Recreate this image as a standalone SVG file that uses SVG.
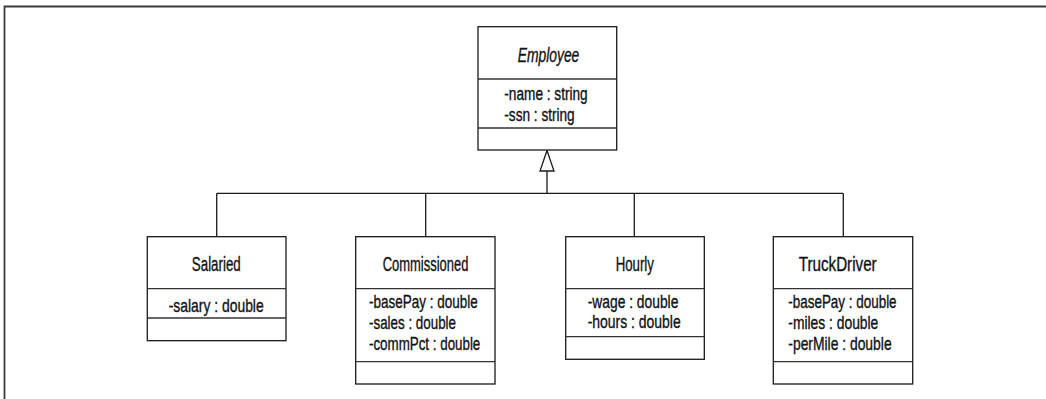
<svg xmlns="http://www.w3.org/2000/svg" width="1046" height="399" viewBox="0 0 1046 399">
<style>
.box{fill:#fff;stroke:#1a1a1a;stroke-width:1.3}
.div{stroke:#333;stroke-width:1.3}
.t{font-family:"Liberation Sans",Arial,sans-serif;font-size:20.5px;fill:#111;stroke:#111;stroke-width:0.35;text-anchor:middle}
.a{font-family:"Liberation Sans",Arial,sans-serif;font-size:18.5px;fill:#111;stroke:#111;stroke-width:0.35}
.c{fill:none;stroke:#1a1a1a;stroke-width:1.3}
.frame{fill:none;stroke:#3a3a3a;stroke-width:1.8}
</style>
<rect width="1046" height="399" fill="#fff"/>
<path class="frame" d="M4.5,399 V6.5 H1046"/>
<g id="connectors">
<path class="c" d="M547,171 V193.3 M216.7,193.3 H843.3 M216.7,193.3 V236.7 M425.7,193.3 V236.7 M634.3,193.3 V236.7 M843.3,193.3 V236.7"/>
<polygon class="c" points="547,150.5 540,171 554,171" style="fill:#fff"/>
</g>
<g id="Employee">
<rect class="box" x="478" y="26.7" width="138.7" height="123.3"/>
<line class="div" x1="478" y1="79" x2="616.7" y2="79"/>
<line class="div" x1="478" y1="128" x2="616.7" y2="128"/>
<text class="t" x="548.5" y="62.3" font-style="italic" textLength="61.6" lengthAdjust="spacingAndGlyphs">Employee</text>
<text class="a" x="504.3" y="100" textLength="83.4" lengthAdjust="spacingAndGlyphs">-name : string</text>
<text class="a" x="504.3" y="120.7" textLength="70.4" lengthAdjust="spacingAndGlyphs">-ssn : string</text>
</g>
<g id="Salaried">
<rect class="box" x="147.3" y="236.7" width="138.7" height="104"/>
<line class="div" x1="147.3" y1="288.7" x2="286" y2="288.7"/>
<line class="div" x1="147.3" y1="318" x2="286" y2="318"/>
<text class="t" x="216.3" y="270.7" textLength="49" lengthAdjust="spacingAndGlyphs">Salaried</text>
<text class="a" x="168.7" y="311.7" textLength="95" lengthAdjust="spacingAndGlyphs">-salary : double</text>
</g>
<g id="Commissioned">
<rect class="box" x="355.7" y="236.7" width="139.3" height="147.3"/>
<line class="div" x1="355.7" y1="288.7" x2="495" y2="288.7"/>
<line class="div" x1="355.7" y1="361.7" x2="495" y2="361.7"/>
<text class="t" x="425.5" y="270.7" textLength="85.7" lengthAdjust="spacingAndGlyphs">Commissioned</text>
<text class="a" x="369" y="308" textLength="108.7" lengthAdjust="spacingAndGlyphs">-basePay : double</text>
<text class="a" x="369" y="329" textLength="87" lengthAdjust="spacingAndGlyphs">-sales : double</text>
<text class="a" x="369" y="350" textLength="111.3" lengthAdjust="spacingAndGlyphs">-commPct : double</text>
</g>
<g id="Hourly">
<rect class="box" x="565.7" y="236.7" width="138.6" height="122.6"/>
<line class="div" x1="565.7" y1="288.7" x2="704.3" y2="288.7"/>
<line class="div" x1="565.7" y1="336.7" x2="704.3" y2="336.7"/>
<text class="t" x="634.8" y="270.7" textLength="38.3" lengthAdjust="spacingAndGlyphs">Hourly</text>
<text class="a" x="587.7" y="307.7" textLength="90.7" lengthAdjust="spacingAndGlyphs">-wage : double</text>
<text class="a" x="587.7" y="328.3" textLength="93" lengthAdjust="spacingAndGlyphs">-hours : double</text>
</g>
<g id="TruckDriver">
<rect class="box" x="773.3" y="236.7" width="139.4" height="147.3"/>
<line class="div" x1="773.3" y1="288.7" x2="912.7" y2="288.7"/>
<line class="div" x1="773.3" y1="361.7" x2="912.7" y2="361.7"/>
<text class="t" x="837.7" y="270.7" textLength="78" lengthAdjust="spacingAndGlyphs">TruckDriver</text>
<text class="a" x="788.3" y="308" textLength="108.3" lengthAdjust="spacingAndGlyphs">-basePay : double</text>
<text class="a" x="788.3" y="329" textLength="90" lengthAdjust="spacingAndGlyphs">-miles : double</text>
<text class="a" x="788.3" y="350.3" textLength="103.3" lengthAdjust="spacingAndGlyphs">-perMile : double</text>
</g>
</svg>
